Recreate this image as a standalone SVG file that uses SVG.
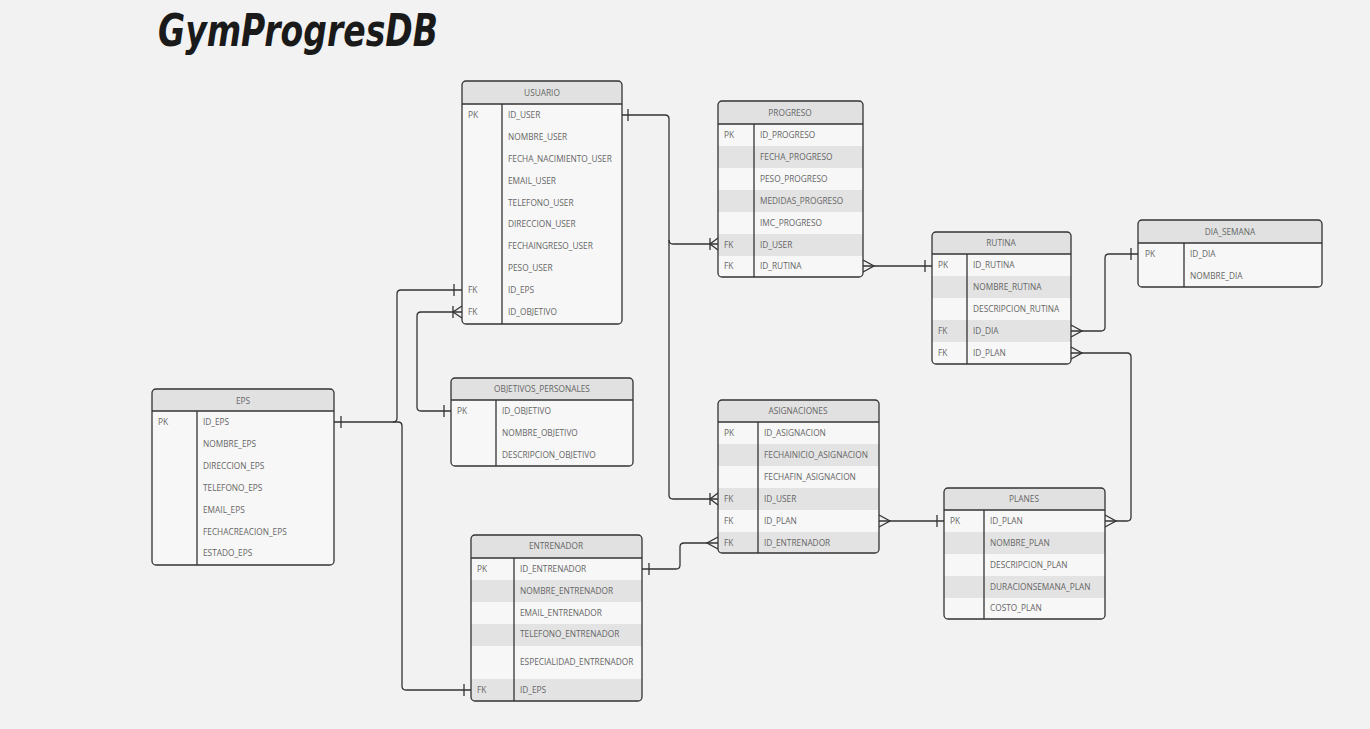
<svg xmlns="http://www.w3.org/2000/svg" width="1370" height="729" viewBox="0 0 1370 729">
<style>
.bg{fill:#f2f2f2}
.body{fill:#f7f7f7}
.hd{fill:#e1e1e1}
.sh{fill:#e3e3e3}
.ol{fill:none;stroke:#333;stroke-width:1.3}
.dv{stroke:#333;stroke-width:1.3}
.t{font-family:"Open Sans","Liberation Sans",sans-serif;font-size:8.3px;fill:#666}
.ht{font-family:"Open Sans","Liberation Sans",sans-serif;font-size:8.3px;fill:#666;text-anchor:middle}
.ln{fill:none;stroke:#333;stroke-width:1.3}
.title{font-family:"DejaVu Sans","Liberation Sans",sans-serif;font-style:italic;font-weight:bold;font-size:44px;fill:#1a1a1a}
</style>
<rect class="bg" x="0" y="0" width="1370" height="729"/>
<text class="title" x="158" y="46" textLength="280" lengthAdjust="spacingAndGlyphs">GymProgresDB</text>

<g id="connectors">
<path class="ln" d="M622,115 H665 Q669,115 669,119 V240 Q669,244 673,244 H718"/>
<path class="ln" d="M628,109 V121"/>
<path class="ln" d="M710,238 V250 M710,244 L718,238 M710,244 L718,250"/>
<path class="ln" d="M669,240 V495 Q669,499 673,499 H718"/>
<path class="ln" d="M710,493 V505 M710,499 L718,493 M710,499 L718,505"/>
<path class="ln" d="M863,266 H932"/>
<path class="ln" d="M863,260 L874,266 L863,272"/>
<path class="ln" d="M925,260 V272"/>
<path class="ln" d="M1071,331 H1101 Q1105,331 1105,327 V258 Q1105,254 1109,254 H1138"/>
<path class="ln" d="M1071,325 L1082,331 L1071,337"/>
<path class="ln" d="M1131,248 V260"/>
<path class="ln" d="M1071,353 H1127 Q1131,353 1131,357 V517 Q1131,521 1127,521 H1105"/>
<path class="ln" d="M1071,347 L1082,353 L1071,359"/>
<path class="ln" d="M1105,515 L1116,521 L1105,527"/>
<path class="ln" d="M879,521 H944"/>
<path class="ln" d="M879,515 L890,521 L879,527"/>
<path class="ln" d="M937,515 V527"/>
<path class="ln" d="M642,569 H676 Q680,569 680,565 V547 Q680,543 684,543 H718"/>
<path class="ln" d="M649,563 V575"/>
<path class="ln" d="M718,537 L707,543 L718,549"/>
<path class="ln" d="M334,422 H393 Q397,422 397,418 V294 Q397,290 401,290 H462"/>
<path class="ln" d="M341,416 V428"/>
<path class="ln" d="M454,284 V296"/>
<path class="ln" d="M393,422 H398 Q402,422 402,426 V686 Q402,690 406,690 H471"/>
<path class="ln" d="M464,684 V696"/>
<path class="ln" d="M451,411 H421 Q417,411 417,407 V316 Q417,312 421,312 H462"/>
<path class="ln" d="M444,405 V417"/>
<path class="ln" d="M453,306 V318 M453,312 L462,306 M453,312 L462,318"/>
</g>

<g id="usuario">
<rect class="body" x="462" y="81" width="160" height="243" rx="4"/>
<path class="hd" d="M462,104 V85 Q462,81 466,81 H618 Q622,81 622,85 V104 Z"/>
<line class="dv" x1="462" y1="104" x2="622" y2="104"/>
<line class="dv" x1="502" y1="104" x2="502" y2="324"/>
<rect class="ol" x="462" y="81" width="160" height="243" rx="4"/>
<text class="ht" x="542" y="96">USUARIO</text>
<text class="t" x="468" y="118">PK</text><text class="t" x="508" y="118">ID_USER</text>
<text class="t" x="508" y="140">NOMBRE_USER</text>
<text class="t" x="508" y="162">FECHA_NACIMIENTO_USER</text>
<text class="t" x="508" y="184">EMAIL_USER</text>
<text class="t" x="508" y="206">TELEFONO_USER</text>
<text class="t" x="508" y="227">DIRECCION_USER</text>
<text class="t" x="508" y="249">FECHAINGRESO_USER</text>
<text class="t" x="508" y="271">PESO_USER</text>
<text class="t" x="468" y="293">FK</text><text class="t" x="508" y="293">ID_EPS</text>
<text class="t" x="468" y="315">FK</text><text class="t" x="508" y="315">ID_OBJETIVO</text>
</g>

<g id="progreso">
<rect class="body" x="718" y="101" width="145" height="176" rx="4"/>
<path class="hd" d="M718,124 V105 Q718,101 722,101 H859 Q863,101 863,105 V124 Z"/>
<rect class="sh" x="718" y="146" width="145" height="22"/>
<rect class="sh" x="718" y="190" width="145" height="22"/>
<rect class="sh" x="718" y="234" width="145" height="22"/>
<line class="dv" x1="718" y1="124" x2="863" y2="124"/>
<line class="dv" x1="754" y1="124" x2="754" y2="277"/>
<rect class="ol" x="718" y="101" width="145" height="176" rx="4"/>
<text class="ht" x="790" y="116">PROGRESO</text>
<text class="t" x="724" y="138">PK</text><text class="t" x="760" y="138">ID_PROGRESO</text>
<text class="t" x="760" y="160">FECHA_PROGRESO</text>
<text class="t" x="760" y="182">PESO_PROGRESO</text>
<text class="t" x="760" y="204">MEDIDAS_PROGRESO</text>
<text class="t" x="760" y="226">IMC_PROGRESO</text>
<text class="t" x="724" y="248">FK</text><text class="t" x="760" y="248">ID_USER</text>
<text class="t" x="724" y="269">FK</text><text class="t" x="760" y="269">ID_RUTINA</text>
</g>

<g id="rutina">
<rect class="body" x="932" y="232" width="139" height="132" rx="4"/>
<path class="hd" d="M932,254 V236 Q932,232 936,232 H1067 Q1071,232 1071,236 V254 Z"/>
<rect class="sh" x="932" y="276" width="139" height="22"/>
<rect class="sh" x="932" y="320" width="139" height="22"/>
<line class="dv" x1="932" y1="254" x2="1071" y2="254"/>
<line class="dv" x1="967" y1="254" x2="967" y2="364"/>
<rect class="ol" x="932" y="232" width="139" height="132" rx="4"/>
<text class="ht" x="1001" y="246">RUTINA</text>
<text class="t" x="938" y="268">PK</text><text class="t" x="973" y="268">ID_RUTINA</text>
<text class="t" x="973" y="290">NOMBRE_RUTINA</text>
<text class="t" x="973" y="312">DESCRIPCION_RUTINA</text>
<text class="t" x="938" y="334">FK</text><text class="t" x="973" y="334">ID_DIA</text>
<text class="t" x="938" y="356">FK</text><text class="t" x="973" y="356">ID_PLAN</text>
</g>

<g id="dia_semana">
<rect class="body" x="1138" y="220" width="184" height="67" rx="4"/>
<path class="hd" d="M1138,243 V224 Q1138,220 1142,220 H1318 Q1322,220 1322,224 V243 Z"/>
<line class="dv" x1="1138" y1="243" x2="1322" y2="243"/>
<line class="dv" x1="1184" y1="243" x2="1184" y2="287"/>
<rect class="ol" x="1138" y="220" width="184" height="67" rx="4"/>
<text class="ht" x="1230" y="235">DIA_SEMANA</text>
<text class="t" x="1145" y="257">PK</text><text class="t" x="1190" y="257">ID_DIA</text>
<text class="t" x="1190" y="279">NOMBRE_DIA</text>
</g>

<g id="eps">
<rect class="body" x="152" y="389" width="182" height="176" rx="4"/>
<path class="hd" d="M152,411 V393 Q152,389 156,389 H330 Q334,389 334,393 V411 Z"/>
<line class="dv" x1="152" y1="411" x2="334" y2="411"/>
<line class="dv" x1="197" y1="411" x2="197" y2="565"/>
<rect class="ol" x="152" y="389" width="182" height="176" rx="4"/>
<text class="ht" x="243" y="404">EPS</text>
<text class="t" x="158" y="425">PK</text><text class="t" x="203" y="425">ID_EPS</text>
<text class="t" x="203" y="447">NOMBRE_EPS</text>
<text class="t" x="203" y="469">DIRECCION_EPS</text>
<text class="t" x="203" y="491">TELEFONO_EPS</text>
<text class="t" x="203" y="513">EMAIL_EPS</text>
<text class="t" x="203" y="535">FECHACREACION_EPS</text>
<text class="t" x="203" y="556">ESTADO_EPS</text>
</g>

<g id="objetivos_personales">
<rect class="body" x="451" y="378" width="182" height="88" rx="4"/>
<path class="hd" d="M451,400 V382 Q451,378 455,378 H629 Q633,378 633,382 V400 Z"/>
<line class="dv" x1="451" y1="400" x2="633" y2="400"/>
<line class="dv" x1="496" y1="400" x2="496" y2="466"/>
<rect class="ol" x="451" y="378" width="182" height="88" rx="4"/>
<text class="ht" x="542" y="392">OBJETIVOS_PERSONALES</text>
<text class="t" x="457" y="414">PK</text><text class="t" x="502" y="414">ID_OBJETIVO</text>
<text class="t" x="502" y="436">NOMBRE_OBJETIVO</text>
<text class="t" x="502" y="458">DESCRIPCION_OBJETIVO</text>
</g>

<g id="entrenador">
<rect class="body" x="471" y="535" width="171" height="166" rx="4"/>
<path class="hd" d="M471,558 V539 Q471,535 475,535 H638 Q642,535 642,539 V558 Z"/>
<rect class="sh" x="471" y="580" width="171" height="22"/>
<rect class="sh" x="471" y="624" width="171" height="22"/>
<path class="sh" d="M471,679 H642 V697 Q642,701 638,701 H475 Q471,701 471,697 Z"/>
<line class="dv" x1="471" y1="558" x2="642" y2="558"/>
<line class="dv" x1="514" y1="558" x2="514" y2="701"/>
<rect class="ol" x="471" y="535" width="171" height="166" rx="4"/>
<text class="ht" x="556" y="549">ENTRENADOR</text>
<text class="t" x="477" y="572">PK</text><text class="t" x="520" y="572">ID_ENTRENADOR</text>
<text class="t" x="520" y="594">NOMBRE_ENTRENADOR</text>
<text class="t" x="520" y="616">EMAIL_ENTRENADOR</text>
<text class="t" x="520" y="637">TELEFONO_ENTRENADOR</text>
<text class="t" x="520" y="665">ESPECIALIDAD_ENTRENADOR</text>
<text class="t" x="477" y="693">FK</text><text class="t" x="520" y="693">ID_EPS</text>
</g>

<g id="asignaciones">
<rect class="body" x="718" y="400" width="161" height="153" rx="4"/>
<path class="hd" d="M718,422 V404 Q718,400 722,400 H875 Q879,400 879,404 V422 Z"/>
<rect class="sh" x="718" y="444" width="161" height="22"/>
<rect class="sh" x="718" y="488" width="161" height="22"/>
<path class="sh" d="M718,532 H879 V549 Q879,553 875,553 H722 Q718,553 718,549 Z"/>
<line class="dv" x1="718" y1="422" x2="879" y2="422"/>
<line class="dv" x1="758" y1="422" x2="758" y2="553"/>
<rect class="ol" x="718" y="400" width="161" height="153" rx="4"/>
<text class="ht" x="798" y="414">ASIGNACIONES</text>
<text class="t" x="724" y="436">PK</text><text class="t" x="764" y="436">ID_ASIGNACION</text>
<text class="t" x="764" y="458">FECHAINICIO_ASIGNACION</text>
<text class="t" x="764" y="480">FECHAFIN_ASIGNACION</text>
<text class="t" x="724" y="502">FK</text><text class="t" x="764" y="502">ID_USER</text>
<text class="t" x="724" y="524">FK</text><text class="t" x="764" y="524">ID_PLAN</text>
<text class="t" x="724" y="546">FK</text><text class="t" x="764" y="546">ID_ENTRENADOR</text>
</g>

<g id="planes">
<rect class="body" x="944" y="488" width="161" height="131" rx="4"/>
<path class="hd" d="M944,510 V492 Q944,488 948,488 H1101 Q1105,488 1105,492 V510 Z"/>
<rect class="sh" x="944" y="532" width="161" height="22"/>
<rect class="sh" x="944" y="576" width="161" height="22"/>
<line class="dv" x1="944" y1="510" x2="1105" y2="510"/>
<line class="dv" x1="984" y1="510" x2="984" y2="619"/>
<rect class="ol" x="944" y="488" width="161" height="131" rx="4"/>
<text class="ht" x="1024" y="502">PLANES</text>
<text class="t" x="950" y="524">PK</text><text class="t" x="990" y="524">ID_PLAN</text>
<text class="t" x="990" y="546">NOMBRE_PLAN</text>
<text class="t" x="990" y="568">DESCRIPCION_PLAN</text>
<text class="t" x="990" y="590">DURACIONSEMANA_PLAN</text>
<text class="t" x="990" y="611">COSTO_PLAN</text>
</g>
</svg>
